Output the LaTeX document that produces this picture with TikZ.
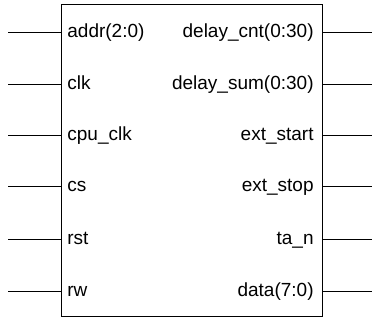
\documentclass[tikz,border=0pt]{standalone}
\usepackage{fontspec}
\setmainfont{Liberation Sans}
\usepackage{tikz}
\usetikzlibrary{positioning}

\begin{document}
\begin{tikzpicture}[x=1pt, y=1pt, line width=.8pt,
    chipbox/.style={draw, rectangle, minimum width=261pt, minimum height=311.5pt, inner sep=0pt},
    pinl/.style={anchor=base west, inner sep=0pt, font=\fontsize{19}{21}\selectfont},
    pinr/.style={anchor=base east, inner sep=0pt, font=\fontsize{19}{21}\selectfont}]
    \useasboundingbox (0,0) rectangle (372,320);
    \node (chip) [chipbox] at (191.5,159.75) {};
    % inputs
    \coordinate (addr-in) at (8,288);
    \coordinate (clk-in) at (8,236);
    \coordinate (cpuclk-in) at (8,185);
    \coordinate (cs-in) at (8,134);
    \coordinate (rst-in) at (8,81);
    \coordinate (rw-in) at (8,29);
    \node (addr) [pinl] at (67,282.5) {addr(2:0)};
    \node (clk) [pinl] at (67,230.5) {clk};
    \node (cpuclk) [pinl] at (67,179.5) {cpu\_clk};
    \node (cs) [pinl] at (67,128) {cs};
    \node (rst) [pinl] at (67,75.5) {rst};
    \node (rw) [pinl] at (67,23.5) {rw};
    \draw (addr-in) -- (chip.west |- addr-in);
    \draw (clk-in) -- (chip.west |- clk-in);
    \draw (cpuclk-in) -- (chip.west |- cpuclk-in);
    \draw (cs-in) -- (chip.west |- cs-in);
    \draw (rst-in) -- (chip.west |- rst-in);
    \draw (rw-in) -- (chip.west |- rw-in);
    % outputs
    \coordinate (dcnt-out) at (372,288);
    \coordinate (dsum-out) at (372,236);
    \coordinate (estart-out) at (372,185);
    \coordinate (estop-out) at (372,134);
    \coordinate (tan-out) at (372,81);
    \coordinate (data-out) at (372,29);
    \node (dcnt) [pinr] at (314,282.5) {delay\_cnt(0:30)};
    \node (dsum) [pinr] at (314,230.5) {delay\_sum(0:30)};
    \node (estart) [pinr] at (314,179.5) {ext\_start};
    \node (estop) [pinr] at (314,128) {ext\_stop};
    \node (tan) [pinr] at (314,75.5) {ta\_n};
    \node (data) [pinr] at (314,23.5) {data(7:0)};
    \draw (chip.east |- dcnt-out) -- (dcnt-out);
    \draw (chip.east |- dsum-out) -- (dsum-out);
    \draw (chip.east |- estart-out) -- (estart-out);
    \draw (chip.east |- estop-out) -- (estop-out);
    \draw (chip.east |- tan-out) -- (tan-out);
    \draw (chip.east |- data-out) -- (data-out);
\end{tikzpicture}
\end{document}
